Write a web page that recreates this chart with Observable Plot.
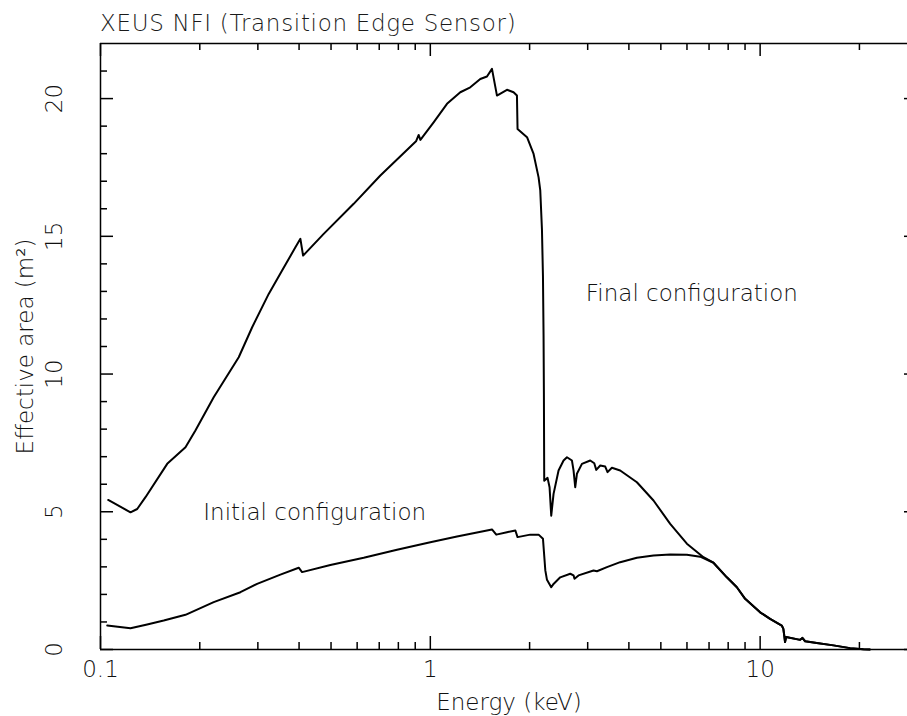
<!DOCTYPE html>
<html>
<head>
<meta charset="utf-8">
<script src="https://cdn.jsdelivr.net/npm/d3@7"></script>
<script src="https://cdn.jsdelivr.net/npm/@observablehq/plot@0.6"></script>
<style>
  html, body { margin: 0; padding: 0; background: #fff; overflow: hidden; }
  #wrap { position: relative; width: 907px; height: 716px; }
  #title { position: absolute; left: 100px; top: 12px; font-family: "DejaVu Sans"; font-size: 23px; font-weight: 300; line-height: 1; letter-spacing: 0.7px; color: #1a1a1a; white-space: nowrap; }
  #chart svg { overflow: hidden; }
</style>
</head>
<body>
<div id="wrap">
  <div id="chart"></div>
  <div id="title">XEUS NFI (Transition Edge Sensor)</div>
</div>
<script>
// Final configuration curve (energy in keV, effective area in m^2)
const finalEnergy = [0.1055,0.1233,0.1292,0.1369,0.1593,0.181,0.194,0.2204,0.2625,0.2883,0.3236,0.3553,0.3899,0.4037,0.4114,0.475,0.5856,0.7055,0.905,0.922,0.933,1.0233,1.1235,1.2328,1.3219,1.4174,1.4852,1.5379,1.5925,1.7074,1.7879,1.8308,1.8385,1.9643,2.0564,2.1294,2.1544,2.1802,2.1955,2.2047,2.21,2.215,2.267,2.299,2.326,2.364,2.448,2.535,2.596,2.688,2.718,2.75,2.783,2.882,3.054,3.141,3.185,3.275,3.391,3.446,3.553,3.764,4.23,4.75,5.337,5.996,6.733,7.218,7.926,8.5,9.006,10.0,10.72,11.63,11.76,11.85,11.9,11.99,13.22,13.43,13.69,14.85,16.68,18.74,20.56,21.5];
const finalArea = [5.43,4.98,5.10,5.53,6.74,7.34,7.95,9.16,10.61,11.70,12.91,13.76,14.60,14.91,14.30,15.09,16.18,17.21,18.45,18.68,18.50,19.14,19.81,20.23,20.41,20.71,20.80,21.08,20.11,20.32,20.23,20.11,18.90,18.60,17.99,17.14,16.67,15.24,13.54,11.40,9.26,6.13,6.23,5.89,4.86,5.65,6.50,6.86,6.98,6.86,6.50,5.89,6.38,6.74,6.86,6.76,6.52,6.68,6.64,6.44,6.60,6.50,6.07,5.41,4.56,3.84,3.35,3.15,2.62,2.26,1.84,1.35,1.11,0.87,0.75,0.45,0.27,0.45,0.35,0.42,0.30,0.24,0.15,0.05,0.01,0.0];

// Initial configuration curve
const initialEnergy = [0.1048,0.1233,0.1385,0.1555,0.181,0.2204,0.2656,0.2984,0.3511,0.399,0.4085,0.4977,0.6281,0.7926,0.9544,1.0,1.2048,1.5379,1.5849,1.7074,1.8109,1.8385,2.0092,2.1294,2.1955,2.2319,2.258,2.326,2.364,2.4771,2.656,2.718,2.7366,2.8146,3.125,3.2002,3.4316,3.764,4.23,4.75,5.337,5.996,6.579,7.218,7.926,8.5,9.006,10.0,10.72,11.63,11.76,11.85,11.9,11.99,13.22,13.43,13.69,14.85,16.68,18.74,20.56,21.5];
const initialArea = [0.87,0.77,0.91,1.05,1.26,1.72,2.08,2.38,2.72,2.97,2.81,3.07,3.33,3.62,3.84,3.89,4.10,4.36,4.17,4.26,4.32,4.08,4.17,4.17,4.02,2.87,2.53,2.26,2.38,2.62,2.75,2.69,2.57,2.69,2.87,2.84,2.99,3.17,3.33,3.41,3.45,3.44,3.37,3.15,2.62,2.26,1.84,1.35,1.11,0.87,0.75,0.45,0.27,0.45,0.35,0.42,0.30,0.24,0.15,0.05,0.01,0.0];

// Axis ticks and labels
const xDomain = [0.1, 30];
const yDomain = [0, 22];
const xMajorTicks = [0.1, 1, 10];
const xTickLabels = ["0.1", "1", "10"];
const xMinorTicks = [0.2,0.3,0.4,0.5,0.6,0.7,0.8,0.9,2,3,4,5,6,7,8,9,20];
const yMajorTicks = [0, 5, 10, 15, 20];
const yTickLabels = ["0", "5", "10", "15", "20"];
const yMinorTicks = [1,2,3,4,6,7,8,9,11,12,13,14,16,17,18,19,21];

// Annotations
const noteText = ["Initial configuration", "Final configuration"];
const noteEnergy = [0.205, 2.96];
const noteArea = [4.98, 12.92];

const xLabel = "Energy (keV)";
const yLabel = "Effective area (m²)";

const font = "DejaVu Sans";
const ink = "#111";

// layout
const W = 907, H = 716, ML = 100, MT = 43, MB = 67, XR = 917;
const MAJ = 13, MIN = 7;
const tick = {stroke: "#000", strokeWidth: 1.5};

const plot = Plot.plot({
  width: W,
  height: H,
  marginLeft: ML,
  marginRight: 0,
  marginTop: MT,
  marginBottom: MB,
  x: {type: "log", domain: xDomain, range: [ML, XR], axis: null},
  y: {domain: yDomain, axis: null},
  style: {fontFamily: font, fontSize: "23px", fontWeight: 300, background: "#fff", color: ink, overflow: "hidden"},
  marks: [
    // curves (drawn first so that frame and ticks sit on top)
    Plot.line(finalEnergy, {x: finalEnergy, y: finalArea, stroke: "#000", strokeWidth: 2, strokeLinejoin: "round"}),
    Plot.line(initialEnergy, {x: initialEnergy, y: initialArea, stroke: "#000", strokeWidth: 2, strokeLinejoin: "round"}),
    // frame
    Plot.ruleY(yDomain, {y: d => d, stroke: "#000", strokeWidth: 1.5}),
    Plot.ruleX(xDomain, {x: d => d, stroke: "#000", strokeWidth: 1.5}),
    // bottom ticks (pointing inward)
    Plot.ruleX(xMajorTicks, {x: d => d, y1: yDomain[0], y2: yDomain[0], insetBottom: MAJ, ...tick}),
    Plot.ruleX(xMinorTicks, {x: d => d, y1: yDomain[0], y2: yDomain[0], insetBottom: MIN, ...tick}),
    // top ticks
    Plot.ruleX(xMajorTicks, {x: d => d, y1: yDomain[1], y2: yDomain[1], insetTop: MAJ, ...tick}),
    Plot.ruleX(xMinorTicks, {x: d => d, y1: yDomain[1], y2: yDomain[1], insetTop: MIN, ...tick}),
    // left ticks
    Plot.ruleY(yMajorTicks, {y: d => d, x1: xDomain[0], x2: xDomain[0], insetLeft: MAJ, ...tick}),
    Plot.ruleY(yMinorTicks, {y: d => d, x1: xDomain[0], x2: xDomain[0], insetLeft: MIN, ...tick}),
    // right ticks (the right frame edge lies just beyond the picture)
    Plot.ruleY(yMajorTicks, {y: d => d, x1: xDomain[1], x2: xDomain[1], insetRight: MAJ, ...tick}),
    Plot.ruleY(yMinorTicks, {y: d => d, x1: xDomain[1], x2: xDomain[1], insetRight: MIN, ...tick}),
    // tick labels
    Plot.text(xMajorTicks, {x: d => d, y: yDomain[0], text: (d, i) => xTickLabels[i], dy: 20, lineAnchor: "middle", fill: ink}),
    Plot.text(yMajorTicks, {x: xDomain[0], y: d => d, text: (d, i) => yTickLabels[i], rotate: -90, dx: -46, textAnchor: "middle", lineAnchor: "middle", fill: ink}),
    // axis titles
    Plot.text([xLabel], {frameAnchor: "bottom", text: d => d, textAnchor: "middle", lineAnchor: "middle", dx: 5, dy: 53, fill: ink}),
    Plot.text([yLabel], {frameAnchor: "left", text: d => d, rotate: -90, textAnchor: "middle", lineAnchor: "middle", dx: -75, fill: ink}),
    // annotations
    Plot.text(noteText, {x: noteEnergy, y: noteArea, text: d => d, textAnchor: "start", lineAnchor: "middle", fill: ink})
  ]
});
document.getElementById("chart").appendChild(plot);
</script>
</body>
</html>
